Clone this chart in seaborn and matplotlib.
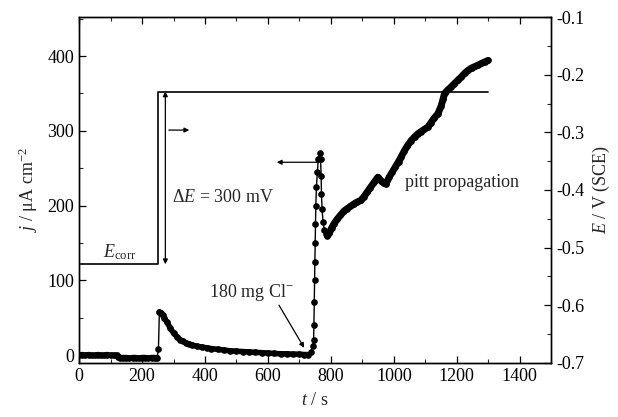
import matplotlib
matplotlib.use("Agg")
import matplotlib.pyplot as plt
from matplotlib.ticker import MultipleLocator
import seaborn as sns

# current density j (uA cm-2) vs time t (s)
t_base = [0, 10, 20, 30, 40, 50, 60, 70, 80, 90, 100, 110, 120,
          125, 130, 140, 150, 160, 170, 180, 190, 200, 210, 220, 230, 240, 248]
j_base = [0, 1, 0, 1, 0, 0, 1, 0, 0, 1, 0, 0, 0,
          -2, -3, -3, -3, -4, -3, -3, -4, -3, -3, -4, -3, -3, -3]

t_decay = [252, 255, 260, 265, 270, 280, 290, 300, 310, 320, 330, 340, 350, 360,
           375, 390, 405, 420, 440, 460, 480, 500, 520, 540, 560, 580, 600, 620,
           640, 660, 680, 700, 715, 726]
j_decay = [8, 58, 57, 54, 50, 44, 36, 30, 25, 21, 18.5, 16.5, 15, 13.5,
           12, 11, 10, 9, 8, 7, 6, 5.5, 5, 4.5, 4, 3.5, 3, 2.5,
           2, 2, 1.5, 1.5, 1, 1]

t_pit = [736, 742, 745, 746, 747, 748, 749, 750, 751, 752, 754, 757, 760, 764,
         767, 769, 770, 772, 775, 779, 784, 789,
         795, 802, 810, 820, 830, 842, 852, 862, 872, 884, 895, 905, 915, 925,
         937, 949, 960, 968, 975, 985, 995, 1005, 1015, 1023, 1033, 1043, 1055,
         1066, 1076, 1086, 1097, 1108, 1118, 1128, 1140, 1150, 1156, 1161, 1170,
         1180, 1192, 1204, 1214, 1225, 1236, 1247, 1258, 1268, 1278, 1288, 1299]
j_pit = [5, 12, 20, 40, 71, 100, 125, 150, 175, 200, 225, 245, 262, 270,
         262, 240, 215, 195, 178, 168, 162, 160,
         163, 170, 176, 182, 187, 193, 196, 199, 202, 205, 207, 212, 218, 224,
         231, 238, 233, 230, 229, 238, 245, 252, 259, 265, 273, 280, 287,
         292, 296, 299, 302, 305, 311, 317, 323, 333, 342, 350, 354,
         358, 363, 368, 372, 377, 381, 384, 386, 388, 390, 392, 394]

# applied potential E (V vs SCE)
t_E = [0, 252, 252, 1300]
E_V = [-0.529, -0.529, -0.23, -0.23]

t_j = t_base + t_decay + t_pit
j = j_base + j_decay + j_pit

sns.set_theme(style="ticks")
plt.rcParams["font.family"] = ["Liberation Serif", "DejaVu Serif"]
plt.rcParams["mathtext.fontset"] = "custom"
plt.rcParams["mathtext.rm"] = "Liberation Serif"
plt.rcParams["mathtext.it"] = "Liberation Serif:italic"
fs = 13

fig = plt.figure(figsize=(6.18, 4.17), dpi=100)
ax = fig.add_axes([0.128, 0.130, 0.764, 0.829])
ax2 = ax.twinx()

# densely sampled stretches look like a solid thick trace
for tt, jj, w in [(t_base, j_base, 4.0), (t_decay[1:], j_decay[1:], 4.0),
                  (t_pit[21:], j_pit[21:], 5.0)]:
    sns.lineplot(x=tt, y=jj, ax=ax, sort=False, estimator=None, color="black",
                 lw=w, solid_capstyle="round", solid_joinstyle="round")
sns.lineplot(x=t_j, y=j, ax=ax, sort=False, estimator=None, color="black",
             lw=1.0, marker="o", markersize=4.8, markeredgewidth=0)
sns.lineplot(x=t_E, y=E_V, ax=ax2, sort=False, estimator=None, color="black", lw=1.2)

ax.set_xlim(0, 1500)
ax.set_ylim(-10, 452)
ax2.set_ylim(-0.7, -0.1)

ax.xaxis.set_major_locator(MultipleLocator(200))
ax.xaxis.set_minor_locator(MultipleLocator(100))
ax.yaxis.set_major_locator(MultipleLocator(100))
ax.yaxis.set_minor_locator(MultipleLocator(50))
ax2.set_yticks([-0.7, -0.6, -0.5, -0.4, -0.3, -0.2, -0.1])
ax2.set_yticklabels(["-0.7", "-0.6", "-0.5", "-0.4", "-0.3", "-0.2", "-0.1"])
ax2.yaxis.set_minor_locator(MultipleLocator(0.05))

for a in (ax, ax2):
    a.tick_params(which="major", direction="in", length=5, width=0.9, labelsize=fs, colors="black")
    a.tick_params(which="minor", direction="in", length=3, width=0.8)
    for s in a.spines.values():
        s.set_linewidth(1.0)
        s.set_color("black")
ax.tick_params(which="both", top=True, right=False)

ax.set_xlabel(r"$t$ / s", fontsize=fs, labelpad=5)
ax.set_ylabel(r"$j$ / μA cm$^{-2}$", fontsize=fs, labelpad=5)
ax2.set_ylabel(r"$E$ / V (SCE)", fontsize=fs, labelpad=5)

# annotations
ax.text(75, 138, r"$E_{\rm corr}$", fontsize=fs, ha="left", va="center")
ax.text(296, 211, r"$\Delta E$ = 300 mV", fontsize=fs, ha="left", va="center")
ax.text(1034, 231, "pitt propagation", fontsize=fs, ha="left", va="center")
ax.text(412, 84, r"180 mg Cl$^{-}$", fontsize=fs, ha="left", va="center")

ax2.annotate("", xy=(274, -0.229), xytext=(274, -0.529),
             arrowprops=dict(arrowstyle="<|-|>", color="black", lw=0.9,
                             mutation_scale=7, shrinkA=0, shrinkB=0))
ax.annotate("", xy=(350, 301), xytext=(285, 301),
            arrowprops=dict(arrowstyle="-|>", color="black", lw=0.9,
                            mutation_scale=7, shrinkA=0, shrinkB=0))
ax.annotate("", xy=(628, 258), xytext=(762, 258),
            arrowprops=dict(arrowstyle="-|>", color="black", lw=0.9,
                            mutation_scale=7, shrinkA=0, shrinkB=0))
ax.annotate("", xy=(715, 10), xytext=(635, 67),
            arrowprops=dict(arrowstyle="-|>", color="black", lw=0.9,
                            mutation_scale=7, shrinkA=0, shrinkB=0))

fig.savefig("out.png", dpi=100)
